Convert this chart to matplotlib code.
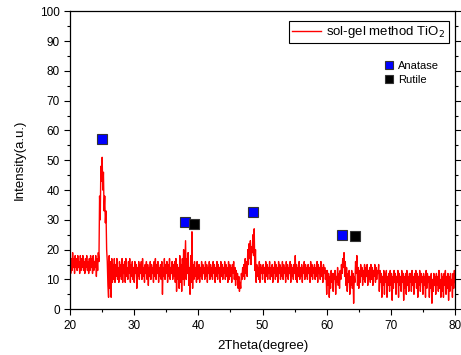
import numpy as np
import matplotlib
matplotlib.use('Agg')
import matplotlib.pyplot as plt
from matplotlib.ticker import MultipleLocator

plt.rcParams['font.family'] = ['Liberation Sans', 'DejaVu Sans']

''' XRD pattern, read off the picture at 0.1 degree steps (one row per degree) '''
two_theta = np.round(np.arange(20, 80.001, 0.1), 1)
intensity = [
    18, 12, 17, 13, 19, 14, 17, 12, 18, 14,   # 20
    17, 13, 18, 14, 16, 12, 18, 13, 17, 14,   # 21
    18, 13, 16, 12, 17, 14, 18, 13, 16, 12,   # 22
    17, 13, 18, 14, 17, 12, 18, 13, 16, 14,   # 23
    18, 11, 17, 13, 19, 16, 38, 30, 48, 43,   # 24
    51, 40, 46, 33, 38, 29, 33, 20, 16, 8,    # 25
    4, 18, 7, 16, 4, 17, 9, 15, 10, 17,       # 26
    9, 15, 11, 17, 10, 14, 9, 16, 11, 15,     # 27
    10, 17, 9, 15, 12, 16, 9, 17, 11, 14,     # 28
    10, 16, 12, 17, 9, 15, 11, 16, 10, 14,    # 29
    9, 16, 12, 15, 7, 14, 11, 16, 10, 15,     # 30
    12, 16, 10, 17, 11, 14, 9, 15, 12, 16,    # 31
    10, 15, 8, 14, 11, 16, 10, 15, 12, 14,    # 32
    9, 16, 11, 17, 10, 15, 12, 16, 9, 14,     # 33
    11, 15, 10, 16, 5, 14, 11, 17, 10, 15,    # 34
    12, 16, 9, 15, 11, 17, 10, 14, 12, 16,    # 35
    10, 15, 11, 16, 9, 17, 6, 15, 10, 14,     # 36
    7, 18, 9, 15, 6, 17, 10, 20, 8, 16,       # 37
    23, 10, 17, 12, 19, 8, 14, 5, 18, 9,      # 38
    26, 7, 15, 10, 16, 11, 14, 9, 16, 10,     # 39
    13, 15, 9, 14, 11, 16, 10, 15, 12, 14,    # 40
    10, 16, 11, 15, 9, 14, 12, 16, 10, 15,    # 41
    11, 14, 10, 16, 12, 15, 9, 14, 11, 16,    # 42
    10, 15, 12, 14, 9, 16, 11, 15, 10, 14,    # 43
    12, 16, 10, 15, 11, 14, 9, 16, 10, 15,    # 44
    11, 14, 9, 15, 12, 16, 10, 14, 8, 13,     # 45
    10, 12, 7, 11, 6, 9, 7, 12, 10, 14,       # 46
    11, 15, 10, 17, 12, 16, 11, 20, 15, 22,   # 47
    17, 23, 15, 21, 19, 25, 18, 27, 13, 20,   # 48
    9, 15, 11, 14, 10, 16, 9, 15, 12, 14,     # 49
    10, 15, 12, 14, 9, 16, 11, 15, 10, 14,    # 50
    12, 16, 10, 14, 11, 15, 9, 14, 12, 16,    # 51
    10, 15, 11, 14, 9, 16, 12, 15, 10, 14,    # 52
    11, 16, 10, 15, 12, 14, 9, 16, 11, 15,    # 53
    10, 14, 12, 16, 9, 15, 11, 14, 10, 15,    # 54
    12, 18, 10, 15, 9, 14, 11, 16, 10, 14,    # 55
    11, 15, 9, 14, 12, 16, 10, 15, 11, 14,    # 56
    10, 15, 12, 14, 9, 16, 11, 15, 10, 14,    # 57
    12, 15, 10, 14, 11, 16, 9, 15, 12, 14,    # 58
    10, 16, 11, 14, 9, 15, 12, 14, 10, 13,    # 59
    5, 13, 8, 12, 4, 11, 7, 13, 9, 12,        # 60
    6, 12, 10, 13, 5, 11, 9, 14, 8, 12,       # 61
    7, 13, 10, 15, 12, 17, 14, 19, 11, 16,    # 62
    8, 14, 6, 12, 9, 13, 5, 11, 8, 13,        # 63
    7, 12, 2, 11, 9, 16, 12, 18, 8, 14,       # 64
    7, 13, 9, 15, 11, 14, 8, 13, 10, 15,      # 65
    9, 14, 11, 15, 8, 13, 10, 14, 9, 15,      # 66
    10, 14, 8, 13, 11, 15, 9, 14, 10, 13,     # 67
    12, 15, 6, 13, 9, 12, 4, 11, 8, 13,       # 68
    5, 12, 9, 13, 4, 11, 8, 12, 6, 13,        # 69
    8, 12, 3, 11, 7, 13, 9, 12, 5, 11,        # 70
    9, 13, 4, 12, 8, 11, 6, 13, 9, 12,        # 71
    3, 11, 7, 12, 5, 13, 8, 11, 6, 12,        # 72
    9, 12, 6, 13, 8, 11, 5, 12, 9, 13,        # 73
    7, 12, 4, 11, 8, 13, 6, 12, 9, 11,        # 74
    5, 12, 8, 11, 4, 13, 7, 12, 9, 11,        # 75
    4, 11, 7, 12, 2, 10, 6, 12, 8, 11,        # 76
    5, 12, 8, 11, 6, 13, 7, 10, 4, 12,        # 77
    6, 11, 4, 12, 8, 13, 5, 11, 7, 12,        # 78
    3, 11, 6, 12, 8, 10, 4, 12, 7, 13,        # 79
    9,                                        # 80
]

''' Phase markers '''
anatase_x = [24.9, 37.9, 48.5, 62.4]
anatase_y = [57, 29.3, 32.6, 24.9]
rutile_x = [39.3, 64.4]
rutile_y = [28.6, 24.6]

fig = plt.figure(figsize=(4.61, 3.55), dpi=100)
ax = fig.add_axes([0.152, 0.129, 0.835, 0.839])

line, = ax.plot(two_theta, intensity, color='red', lw=1.0,
                label=r'sol-gel method TiO$_2$')
ana, = ax.plot(anatase_x, anatase_y, 's', color='#0000ff', mec='#333333',
               mew=0.8, ms=6.5, ls='none', label='Anatase')
rut, = ax.plot(rutile_x, rutile_y, 's', color='black', mec='#333333',
               mew=0.8, ms=6.5, ls='none', label='Rutile')

''' Legends '''
leg1 = ax.legend(handles=[line], loc='upper right', bbox_to_anchor=(0.99, 0.977),
                 fancybox=False, edgecolor='black', framealpha=1,
                 handlelength=2.2, fontsize=9.5, borderpad=0.25,
                 handletextpad=0.4, borderaxespad=0.2)
leg1.get_frame().set_linewidth(0.8)
ax.add_artist(leg1)
ax.legend(handles=[ana, rut], loc='upper left', bbox_to_anchor=(0.797, 0.86),
          frameon=False, fontsize=8, handlelength=0.8, handletextpad=0.4,
          labelspacing=0.4, borderpad=0.2, markerscale=0.85)

''' Axes '''
ax.set_xlim(20, 80)
ax.set_ylim(0, 100)
ax.xaxis.set_major_locator(MultipleLocator(10))
ax.xaxis.set_minor_locator(MultipleLocator(5))
ax.yaxis.set_major_locator(MultipleLocator(10))
ax.yaxis.set_minor_locator(MultipleLocator(5))
ax.tick_params(which='both', direction='out', labelsize=8.5, width=0.8)
ax.tick_params(axis='y', which='both', right=True)
ax.tick_params(which='major', length=4)
ax.tick_params(which='minor', length=2.5)
for s in ax.spines.values():
    s.set_linewidth(0.9)

ax.set_xlabel('2Theta(degree)', fontsize=9.5, labelpad=6)
ax.set_ylabel('Intensity(a.u.)', fontsize=9.5, labelpad=10)

fig.savefig('out.png', dpi=100)
